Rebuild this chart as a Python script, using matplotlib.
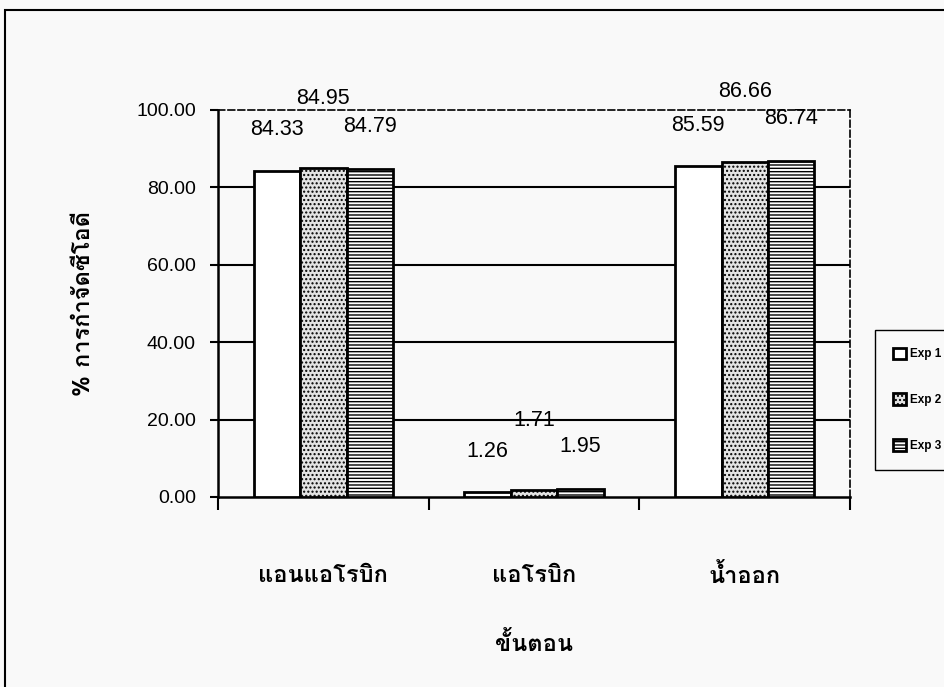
import matplotlib

matplotlib.use("Agg")
import matplotlib.pyplot as plt
import numpy as np
from matplotlib import font_manager
from matplotlib.ft2font import FT2Font
from matplotlib.patches import Rectangle

STAGES = ["แอนแอโรบิก", "แอโรบิก", "น้ำออก"]
SERIES = ["Exp 1", "Exp 2", "Exp 3"]
EXP1 = [84.33, 1.26, 85.59]
EXP2 = [84.95, 1.71, 86.66]
EXP3 = [84.79, 1.95, 86.74]
Y_TICKS = [0, 20, 40, 60, 80, 100]
X_LABEL = "ขั้นตอน"
Y_LABEL = "% การกำจัดซีโอดี"


def thai_font():
    # pick the first installed font that actually has Thai glyphs
    for f in font_manager.fontManager.ttflist:
        try:
            if 0x0E01 in FT2Font(f.fname).get_charmap():
                return f.name
        except Exception:
            continue
    return "DejaVu Sans"


THAI = [thai_font(), "DejaVu Sans"]
NUM = ["Liberation Sans", "DejaVu Sans"]
BG = "#f9f9f9"

fig = plt.figure(figsize=(9.45, 6.87), dpi=100, facecolor=BG)
ax = fig.add_axes([0.2307, 0.2766, 0.6688, 0.5633], facecolor=BG)

x = np.arange(len(STAGES))
w = 0.22
styles = [
    dict(facecolor="white", hatch=None),
    dict(facecolor="#e4e4e4", hatch="...."),
    dict(facecolor="white", hatch="-----"),
]
label_offsets = [10.5, 18.0, 11.0]

plt.rcParams["hatch.color"] = "#333333"
plt.rcParams["hatch.linewidth"] = 1.0

for i, (vals, st) in enumerate(zip([EXP1, EXP2, EXP3], styles)):
    pos = x + (i - 1) * w
    ax.bar(pos, vals, width=w, edgecolor="black", linewidth=2,
           label=SERIES[i], zorder=3, **st)
    for p, v in zip(pos, vals):
        ax.text(p, v + label_offsets[i], f"{v:.2f}", ha="center",
                va="center", fontsize=15.5, family=NUM, zorder=4)

for y in Y_TICKS[1:-1]:
    ax.axhline(y, color="black", linewidth=1.5, zorder=1)

ax.set_xlim(-0.5, 2.5)
ax.set_ylim(0, 100)
ax.set_yticks(Y_TICKS)
ax.set_yticklabels([f"{v:.2f}" for v in Y_TICKS], fontsize=14, family=NUM)
ax.set_xticks(x)
ax.set_xticklabels(STAGES, family=THAI, fontsize=17, fontweight="bold")
ax.set_xticks([-0.5, 0.5, 1.5, 2.5], minor=True)
ax.tick_params(axis="x", which="major", length=0, pad=48)
ax.tick_params(axis="x", which="minor", length=9, width=1.5, direction="out")
ax.tick_params(axis="y", length=6, width=1.5, direction="out", pad=10)

for side in ["left", "bottom"]:
    ax.spines[side].set_linewidth(1.8)
for side in ["top", "right"]:
    ax.spines[side].set_linestyle((0, (4, 2)))
    ax.spines[side].set_linewidth(1.2)

ax.set_xlabel(X_LABEL, family=THAI, fontsize=17, fontweight="bold",
              labelpad=32)
ax.set_ylabel(Y_LABEL, family=THAI, fontsize=17, fontweight="bold",
              labelpad=30)

fig.legend(loc="upper left", bbox_to_anchor=(0.926, 1 - 330 / 687),
           borderaxespad=0,
           prop={"family": NUM, "size": 8.5, "weight": "bold"},
           handlelength=1.1, handleheight=1.1,
           labelspacing=2.8, borderpad=1.5, handletextpad=0.4,
           frameon=True, fancybox=False, edgecolor="black",
           facecolor=BG, framealpha=1)

# scanned page frame around the chart
fig.add_artist(Rectangle((5 / 945, -0.1), 1.2, 677 / 687 + 0.1,
                         transform=fig.transFigure, fill=False,
                         edgecolor="black", linewidth=1.5))

fig.savefig("out.png", dpi=100, facecolor=BG)
